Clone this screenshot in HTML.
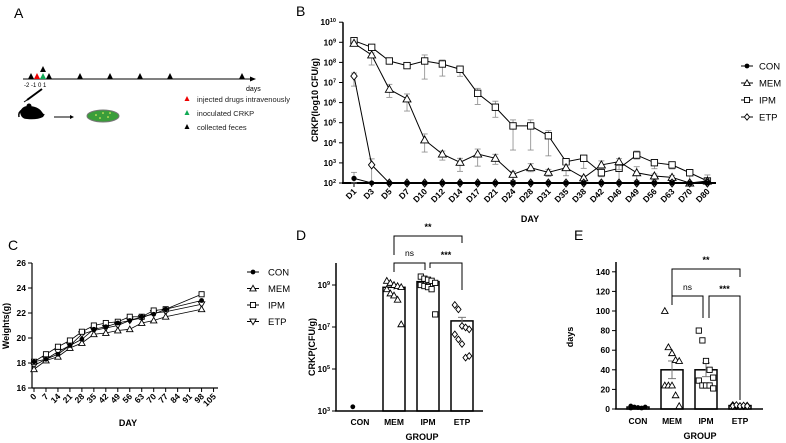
<!DOCTYPE html>
<html><head><meta charset="utf-8"><style>
body{margin:0;background:#fff}
svg{display:block;font-family:"Liberation Sans",Arial,sans-serif}
.t{font-size:8.5px;font-weight:bold}
</style></head><body>
<svg id="s" width="786" height="443" viewBox="0 0 786 443" xmlns="http://www.w3.org/2000/svg">
<g>
<text x="14" y="18" font-size="14">A</text>
<line x1="23" y1="79" x2="252" y2="79" stroke="#000" stroke-width="1"/>
<polygon points="256,79 250,76.5 250,81.5" fill="#000"/>
<g>
<polygon points="31,73 28,79 34,79" fill="#000"/>
<polygon points="37,73 34,79 40,79" fill="#e00"/>
<polygon points="43,73 40,79 46,79" fill="#1a5"/>
<polygon points="43,66 40,72 46,72" fill="#000"/>
<polygon points="49,73 46,79 52,79" fill="#000"/>
<polygon points="80,73 77,79 83,79" fill="#000"/>
<polygon points="110,73 107,79 113,79" fill="#000"/>
<polygon points="140,73 137,79 143,79" fill="#000"/>
<polygon points="170,73 167,79 173,79" fill="#000"/>
<polygon points="242,73 239,79 245,79" fill="#000"/>
</g>
<text x="24" y="87" font-size="6">-2 -1 0 1</text>
<text x="246" y="91" font-size="7">days</text>
<g>
<path d="M20,112 q2,-6 8,-6 q10,0 14,6 q2,3 3,2 l-2,3 q-6,3 -16,2 q-6,0 -7,-7z" fill="#000"/>
<path d="M22,110 q-4,2 -3,7" stroke="#000" fill="none" stroke-width="1.5"/>
<circle cx="29" cy="106" r="2.5" fill="#000"/>
</g>
<g>
<line x1="27" y1="100" x2="42" y2="89" stroke="#000" stroke-width="2"/>
<line x1="24" y1="102" x2="27" y2="100" stroke="#000" stroke-width="1"/>
</g>
<line x1="54" y1="117" x2="71" y2="117" stroke="#000" stroke-width="1"/>
<polygon points="74,117 70,115 70,119" fill="#000"/>
<g>
<ellipse cx="103" cy="116" rx="16" ry="6" fill="#3a9d3a" stroke="#777" stroke-width="1"/>
<circle cx="96" cy="115" r="0.8" fill="#ff6"/><circle cx="103" cy="113" r="0.8" fill="#ff6"/><circle cx="108" cy="117" r="0.8" fill="#ff6"/><circle cx="100" cy="118" r="0.8" fill="#ff6"/><circle cx="110" cy="113" r="0.8" fill="#ff6"/>
</g>
<g>
<polygon points="187,96 184.5,101 189.5,101" fill="#e00"/>
<text x="197" y="102" font-size="7.5" fill="#222">injected drugs intravenously</text>
<polygon points="187,110 184.5,115 189.5,115" fill="#1a5"/>
<text x="197" y="116" font-size="7.5" fill="#222">inoculated CRKP</text>
<polygon points="187,124 184.5,129 189.5,129" fill="#000"/>
<text x="197" y="130" font-size="7.5" fill="#222">collected feces</text>
</g>
</g>
<text x="296" y="16" font-size="14">B</text>
<text x="8" y="250" font-size="14">C</text>
<text x="296" y="240" font-size="14">D</text>
<text x="574" y="240" font-size="14">E</text>
</svg>
<script>
// ---------- Panel B data ----------
const bDays = ['D1','D3','D5','D7','D10','D12','D14','D17','D21','D24','D28','D31','D35','D38','D42','D46','D49','D56','D63','D70','D80'];
const bCON = [2.23,2,2,2,2,2,2,2,2,2,2,2,2,2,2,2,2,2,2,2,2];
const bMEM = [8.95,8.37,6.66,6.18,4.14,3.44,3.03,3.44,3.23,2.43,2.76,2.53,2.76,2.26,2.9,3.06,2.51,2.35,2.28,2.0,2.1];
const bIPM = [9.08,8.75,8.07,7.84,8.07,7.92,7.66,6.46,5.77,4.84,4.84,4.35,3.06,3.23,2.51,2.73,3.39,3.01,2.9,2.51,2.1];
const bETP = [7.32,2.9,2,2,2,2,2,2,2,2,2,2,2,2,2,2,2,2,2,2,2];
const bIPMhi = [.05,.1,.15,.15,.3,.2,.15,.25,.3,.3,.3,.25,.15,.15,.2,.25,.2,.15,.15,.15,.3];
const bIPMlo = [.05,.1,.15,.15,.9,.6,.35,.55,.5,1.2,1.2,1.0,.15,.5,.2,.8,.2,.3,.2,.5,.1];
const bMEMhi = [.05,.1,.25,.25,.3,.15,.2,.25,.2,.15,.2,.15,.15,.1,.2,.15,.3,.1,.1,.05,.1];
const bMEMlo = [.05,.5,.4,.6,.6,.3,.45,.6,.3,.3,.2,.2,.4,.2,.2,.4,.4,.2,.2,0,0];
const bETPhi = [.15,.3];
const bETPlo = [.5,.9];
const bCONhi = [.3];
const bYTicks = [2,3,4,5,6,7,8,9,10];
// ---------- Panel C data ----------
const cDays = [0,7,14,21,28,35,42,49,56,63,70,77,98];
const cTicks = [0,7,14,21,28,35,42,49,56,63,70,77,84,91,98,105];
const cYTicks = [16,18,20,22,24,26];
const cCON = [18.1,18.3,18.7,19.4,19.9,20.7,20.9,21.2,21.4,21.7,21.9,22.3,23.0];
const cMEM = [17.5,18.2,18.5,19.2,19.6,20.3,20.4,20.6,20.7,21.2,21.4,21.7,22.3];
const cIPM = [18.1,18.7,19.3,19.8,20.5,21.0,21.2,21.3,21.7,21.7,22.2,22.3,23.5];
const cETP = [17.8,18.3,18.9,19.4,20.3,20.6,20.8,21.0,21.4,21.6,22.0,22.1,22.7];
// ---------- Panel D data ----------
const groups = ['CON','MEM','IPM','ETP'];
const dBars = [null,8.89,9.16,7.29];
const dErr = [0,0.12,0.1,0.17];
const dCONpts = [3.2];
const dMEMpts = [9.2,9.1,9.0,8.95,8.9,8.8,8.6,8.5,8.3,7.13];
const dIPMpts = [9.4,9.3,9.25,9.2,9.1,9.0,8.95,8.9,8.8,7.6];
const dETPpts = [8.05,7.84,7.05,6.98,6.89,6.65,6.41,6.19,5.54,5.62];
const dYTicks = [3,5,7,9];
// ---------- Panel E data ----------
const eBars = [2,40,40,3.5];
const eErr = [0.5,9,7,0.4];
const eCONpts = [3,2,1.5,1,2,1];
const eMEMpts = [100,63,57,50,49,24,24,24,14,3];
const eIPMpts = [80,70,49,40,32,29,24,24,24,21];
const eETPpts = [4,3,3,3,3.5,3,4,3,3.5,3];
const eYTicks = [0,20,40,60,80,100,120,140];

const NS='http://www.w3.org/2000/svg';
const svg=document.getElementById('s');
function mk(tag,attrs,parent){const e=document.createElementNS(NS,tag);for(const k in attrs)e.setAttribute(k,attrs[k]);(parent||svg).appendChild(e);return e;}
function marker(type,x,y,s,parent){
  let e;
  if(type==='circle'){e=mk('circle',{cx:x,cy:y,r:s*0.75,fill:'#000'},parent);}
  else if(type==='tri'){e=mk('polygon',{points:`${x},${y-s} ${x-s},${y+s*0.75} ${x+s},${y+s*0.75}`,fill:'#fff',stroke:'#000','stroke-width':0.9},parent);}
  else if(type==='itri'){e=mk('polygon',{points:`${x},${y+s} ${x-s},${y-s*0.75} ${x+s},${y-s*0.75}`,fill:'#fff',stroke:'#000','stroke-width':0.9},parent);}
  else if(type==='sq'){e=mk('rect',{x:x-s*0.8,y:y-s*0.8,width:s*1.6,height:s*1.6,fill:'#fff',stroke:'#000','stroke-width':0.9},parent);}
  else {e=mk('polygon',{points:`${x},${y-s} ${x+s*0.8},${y} ${x},${y+s} ${x-s*0.8},${y}`,fill:'#fff',stroke:'#000','stroke-width':0.9},parent);}
  return e;
}
function sup(g,x,y,base,exp,anchor){const t=mk('text',{x:x,y:y,'text-anchor':anchor||'end',class:'t'},g);t.textContent=base;const s=mk('tspan',{dy:-3,'font-size':5.5},t);s.textContent=exp;return t;}

// ================= Panel B =================
const xB=i=>354+i*17.67, yB=v=>183-(v-2)*20.1;
const gB=mk('g',{});


let ax=mk('line',{x1:343,y1:yB(10),x2:343,y2:184,stroke:'#000','stroke-width':1.5},gB);


ax=mk('line',{x1:342,y1:183,x2:716,y2:183,stroke:'#000','stroke-width':2},gB);


bYTicks.forEach(k=>{mk('line',{x1:339,y1:yB(k),x2:343,y2:yB(k),stroke:'#000'},gB);const t=sup(gB,336,yB(k)+3,'10',String(k));

});
bDays.forEach((d,i)=>{mk('line',{x1:xB(i),y1:183,x2:xB(i),y2:187,stroke:'#000'},gB);const t=mk('text',{x:xB(i)+3,y:192,'text-anchor':'end',class:'t',transform:`rotate(-45 ${xB(i)+3} 192)`},gB);t.textContent=d;

});
let lbl=mk('text',{x:530,y:222,'text-anchor':'middle','font-size':9,'font-weight':'bold'},gB);lbl.textContent='DAY';


lbl=mk('text',{x:318,y:100,'text-anchor':'middle','font-size':9,'font-weight':'bold',transform:'rotate(-90 318 100)'},gB);lbl.textContent='CRKP(log10 CFU/g)';


function bSeries(name,vals,hi,lo,type){
  const g=mk('g',{},gB);
  
  
  vals.forEach((v,i)=>{const h=hi[i]||0,l=lo[i]||0;if(h||l){const x=xB(i);mk('line',{x1:x,y1:yB(v+h),x2:x,y2:yB(Math.max(2,v-l)),stroke:'#888','stroke-width':0.8},g);mk('line',{x1:x-3,y1:yB(v+h),x2:x+3,y2:yB(v+h),stroke:'#888','stroke-width':0.8},g);mk('line',{x1:x-3,y1:yB(Math.max(2,v-l)),x2:x+3,y2:yB(Math.max(2,v-l)),stroke:'#888','stroke-width':0.8},g);}});
  mk('polyline',{points:vals.map((v,i)=>xB(i)+','+yB(v)).join(' '),fill:'none',stroke:'#000','stroke-width':1},g);
  vals.forEach((v,i)=>{const m=marker(type,xB(i),yB(v),type==='circle'?3.5:4,g);
  
  });
}
bSeries('ipm',bIPM,bIPMhi,bIPMlo,'sq');
bSeries('mem',bMEM,bMEMhi,bMEMlo,'tri');
bSeries('etp',bETP,bETPhi,bETPlo,'dia');
bSeries('con',bCON,bCONhi,[0.23],'circle');
const bLeg=[['CON','circle'],['MEM','tri'],['IPM','sq'],['ETP','dia']];
bLeg.forEach((l,i)=>{const g=mk('g',{},gB);


const y=66+i*17;mk('line',{x1:741,y1:y,x2:753,y2:y,stroke:'#000'},g);marker(l[1],747,y,3.2,g);const t=mk('text',{x:759,y:y+3.5,'font-size':9.5},g);t.textContent=l[0];});

// ================= Panel C =================
const xC=d=>34+d*1.71, yC=w=>388-(w-16)*12.5;
const gC=mk('g',{});


ax=mk('line',{x1:32,y1:yC(26),x2:32,y2:388,stroke:'#000','stroke-width':1.2},gC);


ax=mk('line',{x1:32,y1:388,x2:218,y2:388,stroke:'#000','stroke-width':1.2},gC);


cYTicks.forEach(w=>{mk('line',{x1:28,y1:yC(w),x2:32,y2:yC(w),stroke:'#000'},gC);const t=mk('text',{x:26,y:yC(w)+3,'text-anchor':'end',class:'t'},gC);t.textContent=w;

});
cTicks.forEach(d=>{mk('line',{x1:xC(d),y1:388,x2:xC(d),y2:392,stroke:'#000'},gC);const t=mk('text',{x:xC(d)+3,y:397,'text-anchor':'end',class:'t',transform:`rotate(-45 ${xC(d)+3} 397)`},gC);t.textContent=d;

});
lbl=mk('text',{x:128,y:426,'text-anchor':'middle','font-size':9,'font-weight':'bold'},gC);lbl.textContent='DAY';


lbl=mk('text',{x:9,y:326,'text-anchor':'middle','font-size':9,'font-weight':'bold',transform:'rotate(-90 9 326)'},gC);lbl.textContent='Weights(g)';


function cSeries(name,vals,type){
  const g=mk('g',{},gC);
  
  
  mk('polyline',{points:vals.map((v,i)=>xC(cDays[i])+','+yC(v)).join(' '),fill:'none',stroke:'#000','stroke-width':0.8},g);
  vals.forEach((v,i)=>{const m=marker(type,xC(cDays[i]),yC(v),3.2,g);
  
  });
}
cSeries('etp',cETP,'itri');cSeries('mem',cMEM,'tri');cSeries('ipm',cIPM,'sq');cSeries('con',cCON,'circle');
const cLeg=[['CON','circle'],['MEM','tri'],['IPM','sq'],['ETP','itri']];
cLeg.forEach((l,i)=>{const g=mk('g',{},gC);


const y=272+i*16.5;mk('line',{x1:247,y1:y,x2:259,y2:y,stroke:'#000'},g);marker(l[1],253,y,3.2,g);const t=mk('text',{x:268,y:y+3.5,'font-size':9.5},g);t.textContent=l[0];});

// ================= Panel D =================
const xD=i=>360+i*34, yD=k=>411-(k-3)*21;
const gD=mk('g',{});


dBars.forEach((v,i)=>{if(v===null)return;const b=mk('rect',{x:xD(i)-11,y:yD(v),width:22,height:411-yD(v),fill:'#fff',stroke:'#000','stroke-width':1.5},gD);


mk('line',{x1:xD(i),y1:yD(v+dErr[i]),x2:xD(i),y2:yD(v-dErr[i]),stroke:'#777'},gD);mk('line',{x1:xD(i)-4,y1:yD(v+dErr[i]),x2:xD(i)+4,y2:yD(v+dErr[i]),stroke:'#777'},gD);});
ax=mk('line',{x1:336,y1:263,x2:336,y2:411,stroke:'#000','stroke-width':1.5},gD);


ax=mk('line',{x1:335,y1:411,x2:483,y2:411,stroke:'#000','stroke-width':1.5},gD);


dYTicks.forEach(k=>{mk('line',{x1:332,y1:yD(k),x2:336,y2:yD(k),stroke:'#000'},gD);const t=sup(gD,330,yD(k)+3,'10',String(k));

});
groups.forEach((g0,i)=>{const t=mk('text',{x:xD(i),y:425,'text-anchor':'middle',class:'t'},gD);t.textContent=g0;

});
lbl=mk('text',{x:422,y:440,'text-anchor':'middle','font-size':9,'font-weight':'bold'},gD);lbl.textContent='GROUP';


lbl=mk('text',{x:315,y:347,'text-anchor':'middle','font-size':9,'font-weight':'bold',transform:'rotate(-90 315 347)'},gD);lbl.textContent='CRKP(CFU/g)';


function dots(gp,xf,yf,pts,i,type,name){pts.forEach((v,j)=>{const off=((j%5)-2)*3.6;const m=marker(type,xf(i)+off,yf(v),type==='circle'?3.2:3.3,gp);

});}
dots(gD,xD,yD,dCONpts,0,'circle','d-point-con');
dots(gD,xD,yD,dMEMpts,1,'tri','d-point-mem');
dots(gD,xD,yD,dIPMpts,2,'sq','d-point-ipm');
dots(gD,xD,yD,dETPpts,3,'dia','d-point-etp');
function bracket(g,x1,x2,y,l1,l2,txt,ty,name){const p=mk('polyline',{points:`${x1},${l1} ${x1},${y} ${x2},${y} ${x2},${l2}`,fill:'none',stroke:'#000','stroke-width':1},g);


const t=mk('text',{x:(x1+x2)/2,y:ty,'text-anchor':'middle','font-size':txt==='ns'?8.5:9,'font-weight':txt==='ns'?'normal':'bold'},g);t.textContent=txt;

}
bracket(gD,394,462,236,255,243,'**',230,'d-bracket-mem-etp');
bracket(gD,394,425,263,272,270,'ns',256,'d-bracket-mem-ipm');
bracket(gD,430,462,263,268,290,'***',258,'d-bracket-ipm-etp');

// ================= Panel E =================
const xE=i=>638+i*34, yE=v=>409-v*0.98;
const gE=mk('g',{});


eBars.forEach((v,i)=>{const b=mk('rect',{x:xE(i)-11,y:yE(v),width:22,height:409-yE(v),fill:'#fff',stroke:'#000','stroke-width':1.5},gE);


mk('line',{x1:xE(i),y1:yE(v+eErr[i]),x2:xE(i),y2:yE(v-eErr[i]),stroke:'#777'},gE);mk('line',{x1:xE(i)-4,y1:yE(v+eErr[i]),x2:xE(i)+4,y2:yE(v+eErr[i]),stroke:'#777'},gE);mk('line',{x1:xE(i)-4,y1:yE(v-eErr[i]),x2:xE(i)+4,y2:yE(v-eErr[i]),stroke:'#777'},gE);});
ax=mk('line',{x1:616,y1:262,x2:616,y2:409,stroke:'#000','stroke-width':1.5},gE);


ax=mk('line',{x1:615,y1:409,x2:763,y2:409,stroke:'#000','stroke-width':1.5},gE);


eYTicks.forEach(v=>{mk('line',{x1:612,y1:yE(v),x2:616,y2:yE(v),stroke:'#000'},gE);const t=mk('text',{x:610,y:yE(v)+3,'text-anchor':'end',class:'t'},gE);t.textContent=v;

});
groups.forEach((g0,i)=>{const t=mk('text',{x:xE(i),y:424,'text-anchor':'middle',class:'t'},gE);t.textContent=g0;

});
lbl=mk('text',{x:700,y:439,'text-anchor':'middle','font-size':9,'font-weight':'bold'},gE);lbl.textContent='GROUP';


lbl=mk('text',{x:573,y:337,'text-anchor':'middle','font-size':9,'font-weight':'bold',transform:'rotate(-90 573 337)'},gE);lbl.textContent='days';


dots(gE,xE,yE,eCONpts,0,'circle','e-point-con');
dots(gE,xE,yE,eMEMpts,1,'tri','e-point-mem');
dots(gE,xE,yE,eIPMpts,2,'sq','e-point-ipm');
dots(gE,xE,yE,eETPpts,3,'dia','e-point-etp');
bracket(gE,672,740,269,296,277,'**',263,'e-bracket-mem-etp');
bracket(gE,672,703,296,305,318,'ns',290,'e-bracket-mem-ipm');
bracket(gE,709,740,296,318,400,'***',292,'e-bracket-ipm-etp');
</script>
</body></html>
